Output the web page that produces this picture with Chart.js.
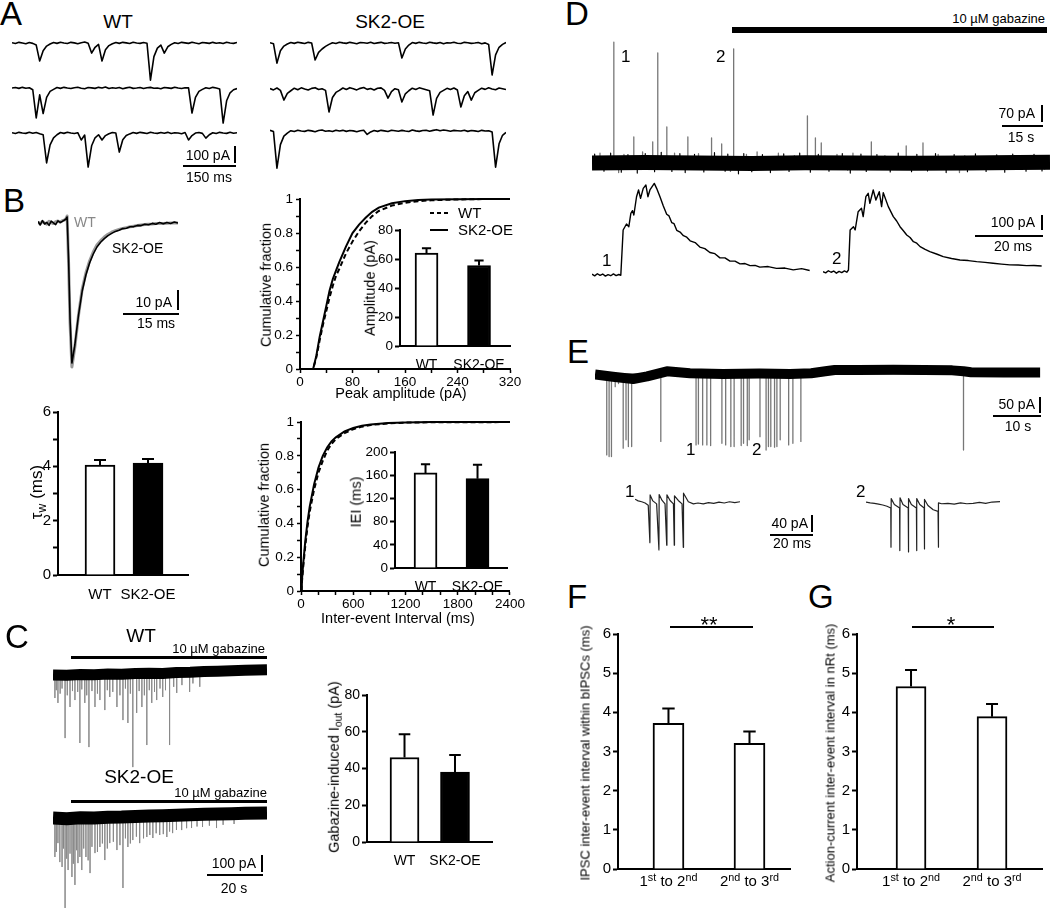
<!DOCTYPE html>
<html>
<head>
<meta charset="utf-8">
<script src="https://cdn.jsdelivr.net/npm/chart.js@4.4.1/dist/chart.umd.min.js"></script>
<style>
html, body { margin: 0; padding: 0; background: #fff; }
#fig { position: relative; width: 1050px; height: 909px; overflow: hidden; background: #fff;
       font-family: 'Liberation Sans', Arial, sans-serif; color: #000; }
#fig canvas { position: absolute; }
.t { position: absolute; white-space: nowrap; line-height: 1; }
.ln { position: absolute; background: #000; }
.t sup { font-size: 0.72em; position: relative; top: -0.5em; vertical-align: baseline; }
.t sub { font-size: 0.72em; position: relative; top: 0.3em; vertical-align: baseline; }
</style>
</head>
<body>
<div id="fig"></div>
<script>
// ---------- data ----------

// A: mIPSC sweeps, one sample every 10 ms, values in pA
const aStep = 10;
const aWt1 = [2,-3,4,0,-4,3,-2,-12,-106,-45,-18,-6,3,-2,5,0,-3,4,1,-4,2,6,-1,-59,-25,-8,-106,-40,-15,-4,3,-2,4,1,-3,5,0,-2,3,-1,-218,-80,-30,-12,-59,-22,-8,2,-3,4,1,-2,5,0,-4,3,1,-2,4,-1,2,-3,5,0,-2,3];
const aWt2 = [0,3,-2,4,-1,2,-10,-176,-40,-150,-55,-20,-8,3,-2,4,0,-3,2,5,-1,-4,3,1,-2,4,0,6,-3,2,-1,3,-4,1,5,-2,0,3,-3,2,4,-1,0,-4,3,1,-2,5,0,-3,2,1,-147,-55,-20,-8,2,-3,4,0,-6,-206,-75,-28,-10,-3];
const aWt3 = [2,-3,4,0,-2,5,-1,3,-4,-10,-176,-70,-28,-10,3,-2,5,0,-3,2,-41,-12,-200,-75,-28,-10,-41,-15,-4,3,0,-112,-40,-15,-5,3,-2,4,1,-3,5,0,-2,3,-1,4,-3,2,0,-4,3,-41,-15,0,3,-2,-30,-10,2,-3,4,0,-2,5,-1,2];
const aSk1 = [2,-4,-118,-45,-18,-6,3,-2,5,1,-3,4,0,-100,-55,-35,-20,-8,2,-3,5,1,-2,4,0,-4,3,2,-1,5,-3,1,4,-2,0,3,-1,2,-88,-35,-12,3,-2,4,0,-3,5,1,-2,3,-4,2,0,5,-1,-3,4,2,-2,0,3,-4,1,-8,-188,-70,-25,-8,3];
const aSk2 = [3,-5,6,-8,-65,-25,-10,5,-4,7,0,-6,4,8,-3,2,-8,-135,-50,-20,-8,6,-3,8,2,-5,4,9,-2,3,-6,5,7,-8,-53,-15,2,-4,-76,-28,-10,5,-3,7,2,-4,-10,-153,-55,-20,-8,4,-3,6,-6,-106,-40,-15,-65,-22,-8,5,-2,7,0,-4,6,2,-3];
const aSk3 = [4,-3,-218,-80,-30,-12,2,-3,5,0,-2,4,1,-4,3,6,-1,2,-3,5,0,4,-2,3,1,-4,2,5,-20,-5,3,-2,4,1,-3,5,2,-1,4,0,-3,6,1,-2,3,5,-1,4,8,2,6,3,-1,4,2,0,5,-2,3,1,-3,4,0,2,-6,-212,-75,-25,-8];

// B: averaged mIPSC (ms, pA)
const bTime = [0,0.6,1.2,1.8,2.4,3,3.6,4.2,4.8,5.4,6,6.6,7.2,7.6,7.9,8.3,8.7,9.2,10,11,12,13,14,15,16,17,18,19,20,21,22,23,24,25,26,27,28,29,30,31,32,33,34,35,36,37,38];
const bWt = [0.5,-0.4,0.8,0,-0.6,0.9,0.2,-0.3,0.7,1,0.4,1.2,1.5,2.2,3.5,-20,-50,-72,-62,-46,-33,-25,-19,-14.5,-11,-8.8,-7,-5.6,-4.6,-3.8,-3.2,-2.7,-2.3,-1.9,-1.6,-1.3,-1.0,-0.8,-0.6,-0.5,-0.3,-0.2,-0.2,-0.1,0,0,0];
const bSk = [0.8,-1,1.2,-0.5,0.3,-1.2,0.9,0.1,-0.8,1.1,0.3,0.8,1.5,2,3,-18,-48,-70,-61,-46,-34,-26,-20,-15.5,-12,-9.6,-7.8,-6.3,-5.2,-4.2,-3.6,-2.8,-2.6,-1.9,-1.8,-1.2,-1.3,-0.6,-0.9,-0.2,-0.6,0.2,-0.4,0.3,-0.2,0.5,0];

const groups = ['WT', 'SK2-OE'];
const tauMean = [4.05, 4.12];
const tauErr = [0.18, 0.15];

// B: cumulative distributions
const ampX = [0,20,25,30,35,40,45,50,55,60,70,80,90,100,110,120,140,160,180,200,240,280,320];
const ampSk = [0,0,0.08,0.19,0.28,0.37,0.46,0.53,0.58,0.63,0.72,0.8,0.85,0.89,0.925,0.95,0.975,0.988,0.994,0.997,0.999,1,1];
const ampWt = [0,0,0.07,0.17,0.26,0.34,0.42,0.49,0.55,0.59,0.68,0.75,0.81,0.86,0.9,0.93,0.962,0.978,0.988,0.993,0.998,1,1];
const ampMean = [64, 55.5];
const ampErr = [3.5, 3.5];

const ieiX = [0,10,25,50,75,100,150,200,250,300,350,400,500,600,700,800,1000,1200,1500,2400];
const ieiSk = [0,0.06,0.16,0.3,0.41,0.5,0.63,0.73,0.8,0.85,0.885,0.91,0.945,0.965,0.978,0.986,0.994,0.998,1,1];
const ieiWt = [0,0.05,0.14,0.27,0.38,0.47,0.6,0.7,0.77,0.83,0.87,0.9,0.935,0.958,0.973,0.983,0.992,0.997,0.999,1];
const ieiMean = [164, 154];
const ieiErr = [15, 24];

// C: gabazine traces (s, pA)
const cBaseT = [0,5,10,15,20,25,30,35,40,45,50,55,60,65,70,78];
const cWtBase = [0,-2,3,1,5,4,8,10,9,14,16,20,22,25,27,30];
const cSkBase = [0,-4,2,0,5,6,9,12,14,16,19,22,24,26,28,30];
const cWtSpT = [0.7,1.2,1.8,2.6,3.3,4.4,5.2,6.2,7.1,8,9,9.8,10.5,11.6,12.3,13.1,14.2,15.3,16.2,17.1,18.9,19.8,20.7,21.8,23.3,24.4,25.5,26.4,27.3,28.2,29.1,30.5,31.4,32.4,33.3,34.2,35.1,36,37,37.8,39,40,41,42.5,44,45.1,47,49.8,51,53.5];
const cWtSpA = [-136,-90,-165,-110,-80,-372,-120,-189,-95,-148,-100,-401,-85,-165,-120,-425,-95,-189,-110,-148,-207,-90,-130,-100,-189,-120,-266,-80,-283,-110,-543,-224,-95,-189,-120,-413,-90,-165,-100,-148,-80,-130,-90,-413,-70,-106,-60,-100,-50,-70];
const cSkSpT = [0.7,1.2,1.8,2.5,3.3,3.8,4.4,5,5.5,6.2,6.9,7.4,8,8.6,9.1,9.8,10.5,11.2,12,12.8,13.5,14.2,15.3,16.2,17.1,18,18.9,19.8,20.7,22,23.3,24.4,25.5,26.4,27.3,28.2,29.1,30.4,31.6,33,34.2,35.3,36.4,37.6,38.9,40.2,41.5,42.5,43.6,45,46.9,48.7,50.5,52.5,54.5,57,59.6,62,66];
const cSkSpA = [-230,-200,-148,-260,-289,-180,-531,-240,-307,-210,-348,-270,-395,-190,-266,-230,-307,-180,-230,-250,-325,-170,-207,-200,-171,-150,-248,-180,-148,-140,-189,-160,-413,-120,-171,-150,-130,-110,-148,-120,-112,-100,-118,-90,-100,-95,-112,-80,-89,-70,-71,-60,-59,-50,-53,-45,-59,-40,-35];
const ioutMean = [46, 38];
const ioutErr = [12.6, 9.4];

// D: bIPSCs in VB (s, pA) and two expanded bursts (ms, pA)
const dBaseT = [0,20,40,60,80,100,120,140,160,172];
const dBase = [0,2,0,-2,1,0,-1,0,2,3];
const dSpT = [3,8.2,10,12,15.7,19,22.8,24.7,28.1,31,36,40,44.9,48.7,52,53.2,58,62,70,76,80.9,83.9,86.1,92,96,98,104.9,110,118,124.3,130,138,140,150,160,170];
const dSpA = [40,498,-40,35,107,45,87,453,148,40,107,38,103,78,-35,470,35,45,40,30,194,103,82,35,-30,40,87,30,70,82,35,-40,30,25,30,-25];
const dNzT = [1,4.5,7,11,13.5,17,20,23.5,26,30,33,35,38.5,42,46,50,51,55,57,60,64,67,72,74,78,82,85,89,94,97,101,103,107,112,115,120,122,126,129,133,136,141,144,148,152,155,158,163,166,169];
const dNzA = [36,-34,40,-38,34,-42,38,-36,44,-35,38,-40,35,-37,42,-34,36,-45,38,-36,34,-40,37,-35,40,-38,35,-34,38,-42,36,-35,34,-37,40,-36,35,-33,38,-40,34,-36,37,-35,33,-38,36,-34,35,-33];
const d1T = [0,0.8,1.6,2.4,3.2,4,4.8,5.6,6.4,7.2,8,8.6,9.3,10.3,11,11.6,12.1,12.5,13.3,13.9,14.5,15.3,16.1,16.7,17.3,18.6,19.3,20.3,21.3,22.3,23,23.8,24.5,25.3,26.3,27.3,28.3,29.3,30.8,32.2,33.7,35.2,36.7,38.2,39.7,41.2,42.7,44.2,45.7,47.2,48.7,50.1,52.6,55.1,57.6,60.1,62.6,65];
const d1V = [5,-6,8,-3,6,-8,2,-5,7,-4,3,-2,300,340,322,411,429,400,522,567,511,578,600,522,567,611,578,522,460,405,394,350,342,298,286,262,252,228,216,186,176,150,142,114,114,92,92,74,76,62,64,52,56,44,46,34,42,30];
const d2T = [0,0.8,1.6,2.4,3.2,4,4.8,5.6,6.4,7.1,7.6,8.1,9.1,9.6,10.5,11.5,12,12.8,13.5,14,15,15.8,16.8,17.5,18,19.5,21,22,23,24,25,26,27,28,29,30.5,31.9,33.9,35.9,38.4,40.9,43.4,45.9,48.4,50.8,53.3,55.8,58.3,60.8,63,65.3];
const d2V = [22,14,28,18,26,12,24,16,27,18,33,300,322,300,422,445,389,522,545,478,567,500,556,456,549,456,389,360,322,295,267,250,222,212,189,170,156,140,122,110,100,96,89,84,78,72,67,66,62,63,60];

// E: nRt action currents (s, pA) and two expanded bursts (ms, pA)
const eBaseT = [0,3.8,8.1,11.1,15.3,20.2,27.2,35,41.5,46,49,51,56,63.5,70,76,78.4,80,87,94.7];
const eBase = [-2,-9,-16,-8,8,2,0,1,0,2,8,12,12,13,12,11,8,5,4,4];
const eSpT = [2.5,3,3.5,4.3,5,6,6.6,7.1,7.8,8.9,11,14,21.5,22,22.9,23.8,24.6,27,27.8,28.9,29.6,31.1,31.6,32.4,32.8,35.1,36.4,36.9,37.4,38.2,38.7,39.4,41.2,42.1,43.8,78.4];
const eSpA = [-253,-258,-258,-40,-30,-232,-206,-227,-227,-25,-20,-211,-222,-219,-222,-222,-224,-217,-222,-227,-227,-224,-217,-224,-206,-196,-238,-227,-227,-229,-227,-206,-222,-217,-211,-238];
const e1T = [0,1.5,3.2,4.8,6.3,7.1,7.2,8.5,10.3,11.4,11.5,12.9,14.3,15.1,15.2,16.7,18.3,18.7,18.8,20.6,22.4,23,23.1,25.4,27.8,30,32.5,35,37.5,40,42.5,45,47.5,50];
const e1V = [2,-2,-4,-7,-12,-100,12,-2,-9,-117,13,-1,-9,-106,12,-1,-9,-106,10,-1,-9,-111,16,-4,-9,-7,-9,-6,-8,-5,-7,-4,-6,-4];
const e2T = [0,2,4,6,8,10,11.8,11.9,12,13.5,16,16.1,16.2,17.6,20.1,20.2,20.3,21.6,24,24.1,24.2,25.6,27.7,27.8,27.9,29.5,32,34.3,34.4,34.6,36,39,42,45,48,51,54,57,60,63.8];
const e2V = [0,-2,-3,-5,-7,-10,-14,-106,8,-6,-14,-114,10,-6,-14,-117,8,-6,-14,-114,8,-6,-14,-110,6,-8,-18,-22,-106,-2,-4,-3,-5,-2,-4,-3,-1,-3,0,1];

// F, G
const fgCats = ['1st to 2nd', '2nd to 3rd'];
const ipscMean = [3.72, 3.21];
const ipscErr = [0.38, 0.30];
const acMean = [4.66, 3.89];
const acErr = [0.42, 0.32];

// ---------- helpers ----------
const FONT = "'Liberation Sans', Arial, sans-serif";
Chart.defaults.font.family = FONT;
Chart.defaults.color = '#000';
Chart.defaults.animation = false;
Chart.defaults.responsive = false;
Chart.defaults.devicePixelRatio = 1;
Chart.defaults.events = [];
Chart.defaults.plugins.legend.display = false;
Chart.defaults.plugins.tooltip.enabled = false;

const fig = document.getElementById('fig');

function addCanvas(box) {
    const c = document.createElement('canvas');
    c.width = box[2];
    c.height = box[3];
    c.style.left = box[0] + 'px';
    c.style.top = box[1] + 'px';
    c.style.width = box[2] + 'px';
    c.style.height = box[3] + 'px';
    fig.appendChild(c);
    return c;
}

function txt(html, x, base, size, align, color) {
    const d = document.createElement('div');
    d.className = 't';
    d.innerHTML = html;
    d.style.fontSize = size + 'px';
    d.style.left = x + 'px';
    d.style.top = (base - 0.8465 * size) + 'px';
    if (align === 'center') d.style.transform = 'translateX(-50%)';
    if (align === 'right') d.style.transform = 'translateX(-100%)';
    if (color) d.style.color = color;
    fig.appendChild(d);
}

function vtxt(html, cx, cy, size) {
    const d = document.createElement('div');
    d.className = 't';
    d.innerHTML = html;
    d.style.fontSize = size + 'px';
    d.style.left = cx + 'px';
    d.style.top = cy + 'px';
    d.style.transform = 'translate(-50%,-50%) rotate(-90deg)';
    fig.appendChild(d);
}

function hl(x0, x1, y, w = 2, dashed = false) {
    const d = document.createElement('div');
    d.className = 'ln';
    d.style.cssText += `left:${x0}px;top:${y - w / 2}px;width:${x1 - x0}px;height:${w}px;`;
    if (dashed) d.style.background = 'repeating-linear-gradient(90deg,#000 0 4px,transparent 4px 7px)';
    fig.appendChild(d);
}

function vl(x, y0, y1, w = 2) {
    const d = document.createElement('div');
    d.className = 'ln';
    d.style.cssText += `left:${x - w / 2}px;top:${y0}px;width:${w}px;height:${y1 - y0}px;`;
    fig.appendChild(d);
}

const xy = (ts, vs) => ts.map((t, i) => ({ x: t, y: vs[i] }));
const sampled = (step, vs) => vs.map((v, i) => ({ x: i * step, y: v }));
const spikes = (ts, as) => ts.flatMap((t, i) => [{ x: t, y: 0 }, { x: t, y: as[i] }, { x: t, y: 0 }]);
const supify = s => s.replace(/(\d)(st|nd|rd)/g, '$1<sup>$2</sup>');

function line(pts, color, width, dash) {
    return { data: pts, borderColor: color, borderWidth: width, borderDash: dash || [], fill: false, clip: false };
}

// trace without axes: the canvas box is the plot area
function traceChart(box, xr, yr, sets) {
    return new Chart(addCanvas(box), {
        type: 'line',
        data: { datasets: sets },
        options: {
            layout: { padding: 0 },
            scales: {
                x: { type: 'linear', display: false, min: xr[0], max: xr[1] },
                y: { display: false, min: yr[0], max: yr[1] }
            },
            elements: { point: { radius: 0 }, line: { tension: 0, borderJoinStyle: 'round' } }
        }
    });
}

// error bars above each bar
const errPlugin = {
    id: 'errbars',
    afterDatasetsDraw(chart) {
        const ctx = chart.ctx, ys = chart.scales.y;
        chart.data.datasets.forEach((ds, di) => {
            if (!ds.errs) return;
            chart.getDatasetMeta(di).data.forEach((bar, i) => {
                const top = ys.getPixelForValue(ds.data[i].y + ds.errs[i]);
                const cap = bar.width * 0.2;
                ctx.save();
                ctx.strokeStyle = '#000';
                ctx.lineWidth = 2;
                ctx.beginPath();
                ctx.moveTo(bar.x, bar.y);
                ctx.lineTo(bar.x, top);
                ctx.moveTo(bar.x - cap, top);
                ctx.lineTo(bar.x + cap, top);
                ctx.stroke();
                ctx.restore();
            });
        });
    }
};

// bar chart with its plot area pinned at area = [x0, y0, x1, y1]
function barChart(area, o) {
    const L = o.L || 36, T = 14, R = 6, B = o.B || 24;
    const w = area[2] - area[0], h = area[3] - area[1];
    const box = [area[0] - L, area[1] - T, w + L + R, h + T + B];
    const chart = new Chart(addCanvas(box), {
        type: 'bar',
        data: {
            datasets: [{
                data: o.vals.map((v, i) => ({ x: i + 1, y: v })),
                errs: o.errs,
                backgroundColor: o.fills,
                borderColor: '#000',
                borderWidth: 2,
                barThickness: o.bw
            }]
        },
        options: {
            layout: { padding: { left: 0, top: T, right: R, bottom: 0 } },
            scales: {
                x: {
                    type: 'linear', min: o.xr[0], max: o.xr[1], offset: false,
                    grid: { display: false },
                    border: { color: '#000', width: 2 },
                    afterBuildTicks: s => { s.ticks = o.cats.map((_, i) => ({ value: i + 1 })); },
                    ticks: { callback: v => (o.hideCats ? '' : o.cats[v - 1]), font: { size: o.catSize || 14 }, padding: 3, maxRotation: 0, autoSkip: false },
                    afterFit: s => { s.height = B; }
                },
                y: {
                    min: 0, max: o.ymax,
                    grid: { drawOnChartArea: false, tickLength: 5, tickWidth: 2, tickColor: '#000' },
                    border: { color: '#000', width: 2 },
                    ticks: {
                        stepSize: o.step, autoSkip: false, padding: 2, font: { size: o.tickSize || 14 },
                        callback: v => (Math.round(v / o.step) % (o.every || 1) === 0 ? v : '')
                    },
                    afterFit: s => { s.width = L; }
                }
            }
        },
        plugins: [errPlugin]
    });
    chart.boxLeft = box[0];
    return chart;
}

// cumulative fraction plot, plot area pinned at area
function cdfChart(area, o) {
    const L = 36, T = 10, R = 14, B = 22;
    const w = area[2] - area[0], h = area[3] - area[1];
    return new Chart(addCanvas([area[0] - L, area[1] - T, w + L + R, h + T + B]), {
        type: 'line',
        data: {
            datasets: [
                line(xy(o.x, o.sk), '#000', 2),
                line(xy(o.x, o.wt), '#000', 2, [5, 3])
            ]
        },
        options: {
            layout: { padding: { left: 0, top: T, right: R, bottom: 0 } },
            elements: { point: { radius: 0 }, line: { tension: 0 } },
            scales: {
                x: {
                    type: 'linear', min: 0, max: o.xmax,
                    grid: { drawOnChartArea: false, tickLength: 4, tickWidth: 1.5, tickColor: '#000' },
                    border: { color: '#000', width: 2 },
                    ticks: { stepSize: o.xstep, autoSkip: false, maxRotation: 0, padding: 1, font: { size: 13.5 },
                             callback: v => (v % o.xlab === 0 ? v : '') },
                    afterFit: s => { s.height = B; }
                },
                y: {
                    min: 0, max: 1,
                    grid: { drawOnChartArea: false, tickLength: 4, tickWidth: 1.5, tickColor: '#000' },
                    border: { color: '#000', width: 2 },
                    ticks: { stepSize: 0.1, autoSkip: false, padding: 3, font: { size: 13.5 },
                             callback: v => { const k = Math.round(v * 10); return k % 2 === 0 ? String(k / 10) : ''; } },
                    afterFit: s => { s.width = L; }
                }
            }
        }
    });
}

// ---------- panel A ----------
txt('A', 0, 25, 33);
txt('WT', 118, 28, 19, 'center');
txt('SK2-OE', 390, 28, 19, 'center');
[[aWt1, 43], [aWt2, 88], [aWt3, 133]].forEach(([v, base]) => {
    traceChart([12, base - 10, 225, 50], [0, 650], [-235, 59], [line(sampled(aStep, v), '#000', 1.6)]);
});
[[aSk1, 43], [aSk2, 89], [aSk3, 131]].forEach(([v, base]) => {
    traceChart([270, base - 10, 236, 50], [0, 680], [-235, 59], [line(sampled(aStep, v), '#000', 1.6)]);
});
vl(235, 146, 163);
hl(183, 236, 166);
txt('100 pA', 230, 160, 14, 'right');
txt('150 ms', 209, 182, 14, 'center');

// ---------- panel B ----------
txt('B', 3, 212, 33);
traceChart([38, 210, 140, 165], [0, 38], [-76, 6.5], [
    line(xy(bTime, bSk), '#000', 1.6),
    line(xy(bTime, bWt), '#999', 3)
]);
txt(groups[0], 74, 227, 14, 'left', '#888');
txt(groups[1], 112, 253, 14);
vl(178, 290, 310);
hl(123, 179, 314);
txt('10 pA', 172, 307, 14, 'right');
txt('15 ms', 156, 328, 14, 'center');

barChart([58, 412, 188, 575], { vals: tauMean, errs: tauErr, cats: groups, fills: ['#fff', '#000'],
    xr: [0.125, 2.833], bw: 30, ymax: 6, step: 1, every: 2, catSize: 15, tickSize: 15 });
vtxt('&tau;<sub>w</sub> (ms)', 36, 492, 17);

cdfChart([300, 198, 510, 369], { x: ampX, sk: ampSk, wt: ampWt, xmax: 320, xstep: 40, xlab: 80 });
vtxt('Cumulative fraction', 266, 285, 14.5);
txt('Peak amplitude (pA)', 401, 398, 14.5, 'center');
hl(430, 448, 213, 2, true);
txt(groups[0], 458, 218, 15);
hl(430, 448, 230, 2);
txt(groups[1], 458, 235, 15);
barChart([400, 230, 510, 346], { vals: ampMean, errs: ampErr, cats: groups, fills: ['#fff', '#000'],
    xr: [0.495, 2.59], bw: 23, ymax: 80, step: 20, L: 30, catSize: 14, tickSize: 13.5 });
vtxt('Amplitude (pA)', 370, 288, 14.5);

cdfChart([301, 421, 512, 591], { x: ieiX, sk: ieiSk, wt: ieiWt, xmax: 2400, xstep: 200, xlab: 600 });
vtxt('Cumulative fraction', 264, 505, 14.5);
txt('Inter-event Interval (ms)', 398, 623, 14.5, 'center');
barChart([395, 452, 507, 568], { vals: ieiMean, errs: ieiErr, cats: groups, fills: ['#fff', '#000'],
    xr: [0.413, 2.567], bw: 23, ymax: 200, step: 40, L: 32, catSize: 14, tickSize: 13.5 });
vtxt('IEI (ms)', 356, 502, 14.5);

// ---------- panel C ----------
txt('C', 5, 648, 33);
txt('WT', 141, 642, 19, 'center');
txt('10 µM gabazine', 265, 653, 13, 'right');
hl(71, 267, 657, 3);
traceChart([53, 660, 214, 110], [0, 78], [-560, 88], [
    line(xy(cBaseT, cWtBase), '#000', 11),
    line(spikes(cWtSpT, cWtSpA), '#888', 1)
]);
txt('SK2-OE', 139, 783, 19, 'center');
txt('10 µM gabazine', 267, 797, 13, 'right');
hl(71, 267, 801, 3);
traceChart([53, 805, 214, 104], [0, 78], [-537, 77], [
    line(xy(cBaseT, cSkBase), '#000', 13),
    line(spikes(cSkSpT, cSkSpA), '#888', 1)
]);
vl(262, 855, 872);
hl(207, 263, 875);
txt('100 pA', 256, 868, 14, 'right');
txt('20 s', 234, 893, 14, 'center');

barChart([367, 695, 492, 842], { vals: ioutMean, errs: ioutErr, cats: groups, fills: ['#fff', '#000'],
    xr: [0.257, 2.733], bw: 29, ymax: 80, step: 20, catSize: 14, tickSize: 14 });
vtxt('Gabazine-induced I<sub>out</sub> (pA)', 334, 767, 14.5);

// ---------- panel D ----------
txt('D', 565, 25, 33);
txt('10 µM gabazine', 1045, 23, 13, 'right');
hl(732, 1047, 30, 6);
traceChart([592, 35, 458, 150], [0, 172], [-91, 527], [
    line(xy(dBaseT, dBase), '#000', 15),
    line(spikes(dNzT, dNzA), '#000', 1.2),
    line(spikes(dSpT, dSpA), '#777', 1.3)
]);
txt('1', 621, 62, 17);
txt('2', 716, 62, 17);
vl(1042, 105, 122);
hl(1002, 1043, 126);
txt('70 pA', 1035, 118, 14, 'right');
txt('15 s', 1021, 142, 14, 'center');

traceChart([592, 175, 218, 110], [0, 65.1], [-67, 667], [line(xy(d1T, d1V), '#000', 1.4)]);
traceChart([823, 175, 219, 110], [0, 65.4], [-67, 667], [line(xy(d2T, d2V), '#000', 1.4)]);
txt('1', 602, 266, 17);
txt('2', 832, 264, 17);
vl(1042, 215, 230);
hl(975, 1043, 236);
txt('100 pA', 1035, 227, 14, 'right');
txt('20 ms', 1013, 251, 14, 'center');

// ---------- panel E ----------
txt('E', 567, 363, 33);
traceChart([595, 355, 447, 105], [0, 95.1], [-269, 59], [
    line(xy(eBaseT, eBase), '#000', 10),
    line(spikes(eSpT, eSpA), '#777', 1.3)
]);
txt('1', 686, 455, 17);
txt('2', 752, 455, 17);
vl(1040, 397, 413);
hl(993, 1041, 416);
txt('50 pA', 1035, 409, 14, 'right');
txt('10 s', 1018, 431, 14, 'center');

traceChart([635, 480, 105, 75], [0, 50], [-129, 47], [line(xy(e1T, e1V), '#222', 1.2)]);
traceChart([866, 482, 134, 75], [0, 63.8], [-129, 47], [line(xy(e2T, e2V), '#222', 1.2)]);
txt('1', 625, 497, 17);
txt('2', 856, 497, 17);
vl(812, 515, 532);
hl(770, 813, 535);
txt('40 pA', 808, 528, 14, 'right');
txt('20 ms', 792, 548, 14, 'center');

// ---------- panels F and G ----------
txt('F', 567, 608, 33);
txt('G', 808, 608, 33);
const fChart = barChart([618, 634, 790, 869], { vals: ipscMean, errs: ipscErr, cats: fgCats, hideCats: true,
    fills: ['#fff', '#fff'], xr: [0.377, 2.5], bw: 31, ymax: 6, step: 1, B: 30, tickSize: 15 });
const gChart = barChart([857, 634, 1042, 869], { vals: acMean, errs: acErr, cats: fgCats, hideCats: true,
    fills: ['#fff', '#fff'], xr: [0.333, 2.617], bw: 30, ymax: 6, step: 1, B: 30, tickSize: 15 });
[fChart, gChart].forEach(ch => {
    fgCats.forEach((c, i) => txt(supify(c), ch.boxLeft + ch.scales.x.getPixelForValue(i + 1), 886, 15, 'center'));
});
hl(670, 753, 627, 1.5);
txt('**', 709, 633, 22, 'center');
hl(912, 994, 627, 1.5);
txt('*', 951, 633, 22, 'center');
vtxt('IPSC inter-event interval within bIPSCs (ms)', 585, 753, 13);
vtxt('Action-current inter-event interval in nRt (ms)', 830, 753, 13);
</script>
</body>
</html>
